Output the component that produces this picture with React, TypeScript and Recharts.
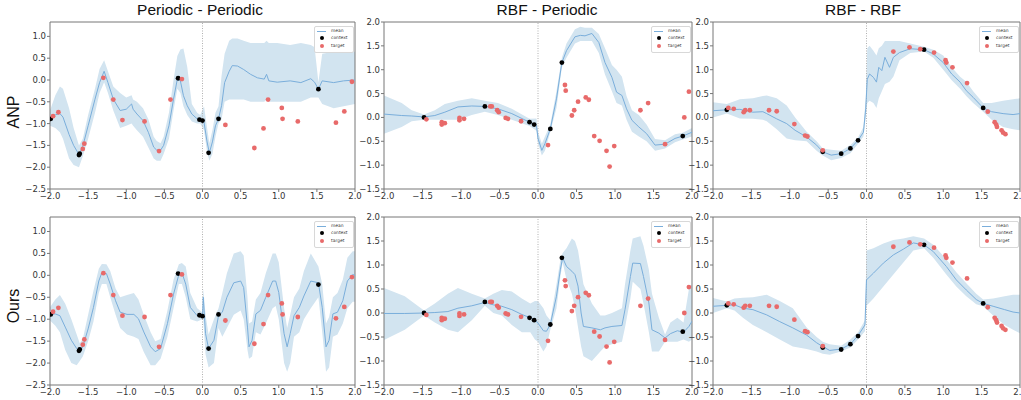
import React from 'react';
import { ComposedChart, Area, Line, Scatter, XAxis, YAxis, ReferenceLine, ReferenceArea } from 'recharts';

// rows: [x, mean, lower, upper]
type Row = [number, number, number, number];
type Pt = [number, number];

const xTicks = [-2, -1.5, -1, -0.5, 0, 0.5, 1, 1.5, 2];
const yTicksPer = [-2.5, -2, -1.5, -1, -0.5, 0, 0.5, 1];
const yTicksRbf = [-1.5, -1, -0.5, 0, 0.5, 1, 1.5, 2];
const yDomainPer: [number, number] = [-2.5, 1.33];
const yDomainRbf: [number, number] = [-1.5, 2.0];

const colTitles = ['Periodic - Periodic', 'RBF - Periodic', 'RBF - RBF'];
const rowTitles = ['ANP', 'Ours'];
const legendItems = ['mean', 'context', 'target'];

// Periodic - Periodic
const ppContext: Pt[] = [[-1.99, -0.89], [-1.62, -1.72], [-1.61, -1.69], [-0.32, 0.04], [-0.04, -0.91], [0.0, -0.93], [0.08, -1.67], [0.21, -0.89], [1.52, -0.21]];
const ppTarget: Pt[] = [[-1.96, -0.83], [-1.89, -0.74], [-1.57, -1.58], [-1.55, -1.46], [-1.30, 0.05], [-1.17, -0.45], [-1.05, -0.92], [-0.76, -0.95], [-0.57, -1.63], [-0.42, -0.45], [-0.27, 0.02], [0.30, -1.03], [0.68, -1.56], [0.80, -1.11], [0.86, -0.45], [1.04, -0.64], [1.05, -0.89], [1.25, -0.95], [1.75, -0.98], [1.86, -0.72], [1.96, -0.04]];
const ppAnp: Row[] = [
  [-2.0, -0.90, -1.05, -0.70], [-1.93, -0.80, -1.10, -0.35], [-1.87, -0.77, -1.20, -0.15], [-1.83, -0.85, -1.35, -0.20],
  [-1.75, -1.25, -1.80, -0.65], [-1.69, -1.50, -1.95, -1.10], [-1.62, -1.71, -2.00, -1.50], [-1.57, -1.52, -1.75, -1.35],
  [-1.50, -1.05, -1.35, -0.80], [-1.41, -0.44, -0.75, -0.20], [-1.35, -0.06, -0.30, 0.25], [-1.29, 0.20, -0.05, 0.45],
  [-1.24, -0.06, -0.30, 0.20], [-1.17, -0.44, -0.70, -0.15], [-1.08, -0.70, -1.10, -0.30], [-1.00, -0.67, -1.05, -0.40],
  [-0.93, -0.55, -1.00, -0.35], [-0.91, -0.67, -1.05, -0.45], [-0.86, -0.78, -1.15, -0.50], [-0.78, -0.93, -1.30, -0.65],
  [-0.71, -1.20, -1.55, -0.90], [-0.64, -1.54, -1.80, -1.30], [-0.60, -1.61, -1.85, -1.40], [-0.55, -1.61, -1.85, -1.45],
  [-0.51, -1.50, -1.70, -1.30], [-0.44, -1.05, -1.35, -0.75], [-0.38, -0.44, -0.70, 0.00], [-0.33, 0.02, -0.20, 0.55],
  [-0.29, -0.02, -0.30, 0.70], [-0.25, -0.36, -0.60, 0.72], [-0.20, -0.59, -0.80, 0.30], [-0.14, -0.78, -0.95, -0.55],
  [-0.07, -0.89, -1.00, -0.75], [-0.03, -0.93, -1.00, -0.80], [0.02, -0.97, -1.15, -0.60], [0.06, -1.42, -1.65, -1.10],
  [0.09, -1.67, -1.85, -1.45], [0.13, -1.42, -1.70, -1.15], [0.17, -1.05, -1.30, -0.75], [0.21, -0.89, -1.00, -0.60],
  [0.25, -0.59, -0.90, 0.10], [0.29, -0.06, -0.50, 0.60], [0.35, 0.20, -0.45, 0.90], [0.39, 0.33, -0.45, 0.95],
  [0.46, 0.32, -0.45, 0.95], [0.54, 0.24, -0.45, 0.90], [0.63, 0.13, -0.50, 0.85], [0.72, 0.05, -0.50, 0.85],
  [0.81, 0.02, -0.50, 0.85], [0.84, 0.13, -0.45, 0.90], [0.87, -0.02, -0.50, 0.85], [0.98, -0.05, -0.50, 0.85],
  [1.15, -0.02, -0.50, 0.80], [1.29, -0.06, -0.50, 0.85], [1.42, 0.03, -0.40, 0.80], [1.47, -0.05, -0.40, 0.75],
  [1.52, -0.21, -0.40, -0.05], [1.57, -0.02, -0.55, 0.60], [1.72, -0.06, -0.65, 0.65], [1.85, -0.02, -0.60, 0.65],
  [2.0, 0.0, -0.55, 0.65],
];
const ppOurs: Row[] = [
  [-2.0, -0.88, -1.03, -0.73], [-1.93, -0.88, -1.15, -0.55], [-1.87, -0.92, -1.30, -0.45], [-1.80, -1.18, -1.70, -0.65],
  [-1.72, -1.48, -2.00, -1.00], [-1.65, -1.67, -2.05, -1.35], [-1.61, -1.74, -1.95, -1.55], [-1.57, -1.63, -1.85, -1.45],
  [-1.50, -1.22, -1.50, -0.90], [-1.43, -0.73, -1.05, -0.35], [-1.36, -0.13, -0.40, 0.15], [-1.32, 0.06, -0.20, 0.26],
  [-1.26, 0.04, -0.20, 0.25], [-1.21, -0.20, -0.50, 0.10], [-1.14, -0.58, -0.90, -0.30], [-1.08, -0.84, -1.20, -0.50],
  [-0.99, -0.89, -1.35, -0.45], [-0.90, -0.89, -1.40, -0.40], [-0.84, -0.99, -1.45, -0.55], [-0.77, -1.29, -1.75, -0.90],
  [-0.68, -1.63, -2.05, -1.30], [-0.62, -1.74, -2.05, -1.50], [-0.55, -1.67, -1.90, -1.45], [-0.46, -1.10, -1.40, -0.80],
  [-0.38, -0.43, -0.75, -0.10], [-0.31, 0.02, -0.20, 0.25], [-0.27, 0.06, -0.20, 0.28], [-0.22, -0.20, -0.50, 0.20],
  [-0.16, -0.73, -1.00, -0.40], [-0.07, -0.92, -1.05, -0.75], [0.0, -0.95, -1.00, -0.85], [0.01, -0.50, -1.00, -0.30],
  [0.04, -1.33, -1.80, -0.90], [0.08, -1.67, -2.10, -1.35], [0.15, -1.48, -2.00, -1.00], [0.21, -0.92, -1.20, -0.75],
  [0.26, -0.84, -1.40, -0.40], [0.32, -0.50, -1.20, 0.05], [0.41, -0.17, -0.90, 0.50], [0.50, -0.13, -0.80, 0.55],
  [0.54, -0.28, -1.00, 0.45], [0.59, -1.18, -1.70, -0.50], [0.61, -1.63, -1.90, -1.10], [0.65, -1.48, -1.85, -1.05],
  [0.70, -0.88, -1.30, -0.55], [0.76, -0.80, -1.35, -0.40], [0.83, -0.50, -1.10, 0.05], [0.92, -0.13, -0.75, 0.50],
  [0.96, -0.13, -0.70, 0.50], [1.00, -0.39, -1.00, 0.30], [1.07, -1.33, -2.00, -0.75], [1.11, -1.63, -2.20, -1.20],
  [1.15, -1.33, -2.00, -0.90], [1.20, -0.92, -1.40, -0.50], [1.27, -0.73, -1.30, -0.30], [1.33, -0.47, -1.00, 0.10],
  [1.42, -0.13, -0.75, 0.50], [1.52, -0.17, -0.50, 0.20], [1.57, -0.73, -1.30, -0.20], [1.62, -1.63, -2.20, -1.10],
  [1.66, -1.48, -2.10, -0.95], [1.71, -0.88, -1.40, -0.50], [1.77, -0.84, -1.35, -0.40], [1.84, -0.58, -1.10, -0.10],
  [1.90, -0.13, -0.75, 0.40], [1.97, 0.02, -0.60, 0.55], [2.0, 0.0, -0.60, 0.55],
];

// RBF - Periodic
const rpContext: Pt[] = [[-1.48, 0.0], [-0.69, 0.23], [-0.11, -0.10], [-0.05, -0.15], [0.16, -0.24], [0.31, 1.15], [1.88, -0.39]];
const rpTarget: Pt[] = [[-1.45, -0.04], [-1.25, -0.10], [-1.25, -0.15], [-1.21, -0.12], [-1.02, -0.01], [-1.02, -0.06], [-0.96, -0.03], [-0.62, 0.23], [-0.60, 0.23], [-0.53, 0.15], [-0.51, 0.11], [-0.42, -0.01], [-0.39, -0.03], [-0.22, -0.08], [0.13, -0.58], [0.35, 0.68], [0.36, 0.56], [0.44, 0.04], [0.47, 0.15], [0.52, 0.33], [0.62, 0.42], [0.66, 0.37], [0.73, -0.39], [0.80, -0.49], [0.89, -0.70], [0.93, -1.03], [0.99, -0.60], [1.33, 0.15], [1.43, 0.30], [1.65, -0.56], [1.90, 0.0], [1.96, 0.54]];
const rpAnp: Row[] = [
  [-2.0, 0.07, -0.34, 0.46], [-1.77, 0.04, -0.20, 0.30], [-1.64, 0.03, -0.08, 0.15], [-1.48, 0.01, -0.05, 0.06],
  [-1.34, 0.04, -0.05, 0.15], [-1.21, 0.11, -0.05, 0.28], [-1.04, 0.22, -0.05, 0.35], [-0.86, 0.24, 0.05, 0.40],
  [-0.69, 0.23, 0.12, 0.35], [-0.52, 0.18, 0.05, 0.30], [-0.34, 0.08, -0.05, 0.18], [-0.11, -0.10, -0.18, -0.03],
  [-0.02, -0.17, -0.28, -0.02], [0.0, -0.44, -0.55, -0.30], [0.05, -0.69, -0.80, -0.55], [0.09, -0.55, -0.70, -0.40],
  [0.16, -0.24, -0.30, -0.15], [0.24, 0.39, 0.20, 0.55], [0.31, 1.15, 1.05, 1.25], [0.37, 1.40, 1.25, 1.55],
  [0.48, 1.69, 1.55, 1.85], [0.55, 1.72, 1.60, 1.90], [0.61, 1.71, 1.60, 1.88], [0.70, 1.76, 1.60, 1.88],
  [0.79, 1.57, 1.35, 1.75], [0.87, 1.15, 0.90, 1.45], [0.96, 0.84, 0.55, 1.10], [1.02, 0.53, 0.30, 1.00],
  [1.09, 0.46, 0.25, 0.85], [1.15, 0.18, -0.05, 0.45], [1.22, -0.06, -0.30, 0.15], [1.31, -0.20, -0.40, 0.05],
  [1.41, -0.34, -0.50, -0.15], [1.52, -0.58, -0.70, -0.45], [1.65, -0.56, -0.65, -0.48], [1.78, -0.44, -0.52, -0.35],
  [1.88, -0.39, -0.46, -0.32], [2.0, -0.31, -0.40, -0.22],
];
const rpOurs: Row[] = [
  [-2.0, -0.01, -0.56, 0.52], [-1.73, -0.01, -0.35, 0.35], [-1.48, 0.0, -0.05, 0.05], [-1.34, 0.01, -0.20, 0.20],
  [-1.17, 0.03, -0.35, 0.40], [-1.04, 0.10, -0.40, 0.52], [-0.86, 0.15, -0.15, 0.40], [-0.69, 0.22, 0.15, 0.30],
  [-0.58, 0.17, 0.0, 0.40], [-0.47, 0.14, -0.05, 0.48], [-0.34, 0.07, -0.25, 0.45], [-0.21, -0.03, -0.40, 0.30],
  [-0.10, -0.10, -0.40, 0.20], [-0.04, -0.15, -0.55, 0.25], [0.0, -0.21, -0.60, 0.25], [0.07, -0.37, -0.80, 0.10],
  [0.11, -0.38, -0.70, -0.05], [0.16, -0.24, -0.35, -0.15], [0.24, 0.35, 0.10, 0.60], [0.29, 0.90, 0.75, 1.10],
  [0.32, 1.15, 1.05, 1.25], [0.37, 0.97, 0.70, 1.35], [0.44, 0.87, 0.40, 1.55], [0.48, 0.80, 0.10, 1.50],
  [0.52, 0.56, -0.30, 1.30], [0.56, 0.0, -0.70, 0.90], [0.59, -0.28, -0.90, 0.60], [0.70, -0.31, -1.00, 0.20],
  [0.81, -0.35, -0.80, -0.05], [0.87, -0.31, -0.70, -0.05], [0.96, -0.28, -0.65, 0.0], [1.09, -0.26, -0.60, 0.10],
  [1.13, 0.07, -0.30, 0.60], [1.20, 0.76, 0.30, 1.30], [1.23, 1.04, 0.65, 1.55], [1.33, 1.03, 0.50, 1.60],
  [1.37, 0.76, 0.20, 1.40], [1.44, 0.21, -0.40, 0.90], [1.48, -0.35, -0.80, 0.40], [1.57, -0.42, -0.80, -0.10],
  [1.65, -0.52, -0.60, -0.45], [1.72, -0.43, -0.60, -0.20], [1.81, -0.37, -0.60, -0.10], [1.89, -0.40, -0.55, -0.20],
  [1.96, -0.28, -0.60, 0.50], [2.0, -0.17, -0.55, 0.60],
];

// RBF - RBF
const rrContext: Pt[] = [[-1.82, 0.16], [-0.57, -0.72], [-0.33, -0.76], [-0.21, -0.65], [-0.11, -0.48], [0.75, 1.42], [1.52, 0.20]];
const rrTarget: Pt[] = [[-1.80, 0.20], [-1.73, 0.18], [-1.60, 0.11], [-1.58, 0.15], [-1.52, 0.15], [-1.27, 0.15], [-1.17, 0.13], [-0.94, -0.14], [-0.80, -0.38], [-0.77, -0.40], [-0.57, -0.69], [0.35, 1.38], [0.56, 1.47], [0.70, 1.43], [0.88, 1.36], [1.03, 1.20], [1.04, 1.15], [1.12, 1.05], [1.31, 0.72], [1.58, 0.12], [1.67, -0.10], [1.69, -0.15], [1.70, -0.20], [1.76, -0.27], [1.78, -0.32], [1.81, -0.35]];
const rrAnp: Row[] = [
  [-2.0, 0.14, 0.0, 0.32], [-1.82, 0.16, 0.08, 0.28], [-1.65, 0.17, -0.02, 0.38], [-1.48, 0.11, -0.03, 0.40],
  [-1.35, 0.12, -0.05, 0.45], [-1.30, 0.08, -0.08, 0.46], [-1.17, -0.03, -0.25, 0.40], [-1.04, -0.13, -0.44, 0.25],
  [-0.93, -0.27, -0.48, 0.0], [-0.78, -0.41, -0.50, -0.30], [-0.65, -0.58, -0.70, -0.50], [-0.57, -0.72, -0.80, -0.65],
  [-0.46, -0.79, -0.90, -0.68], [-0.33, -0.76, -0.85, -0.70], [-0.21, -0.65, -0.75, -0.58], [-0.11, -0.48, -0.55, -0.42],
  [-0.04, -0.31, -0.40, -0.20], [-0.01, 0.18, 0.0, 0.40], [0.01, 0.80, 0.30, 1.45], [0.04, 0.91, 0.35, 1.50],
  [0.09, 0.84, 0.30, 1.40], [0.13, 0.74, 0.20, 1.30], [0.16, 1.05, 0.40, 1.45], [0.20, 0.98, 0.55, 1.50],
  [0.24, 1.26, 0.70, 1.60], [0.30, 1.05, 0.75, 1.60], [0.35, 1.26, 0.85, 1.60], [0.43, 1.36, 1.20, 1.60],
  [0.57, 1.44, 1.35, 1.55], [0.75, 1.42, 1.38, 1.48], [0.87, 1.33, 1.25, 1.42], [1.0, 1.15, 1.0, 1.30],
  [1.11, 0.91, 0.78, 1.05], [1.22, 0.74, 0.60, 0.85], [1.30, 0.56, 0.45, 0.75], [1.39, 0.42, 0.30, 0.55],
  [1.52, 0.20, 0.12, 0.30], [1.63, 0.12, -0.05, 0.30], [1.78, 0.08, -0.20, 0.35], [1.91, 0.06, -0.25, 0.38],
  [2.0, 0.08, -0.27, 0.40],
];
const rrOurs: Row[] = [
  [-2.0, 0.14, 0.0, 0.31], [-1.82, 0.16, 0.10, 0.24], [-1.72, 0.17, 0.05, 0.30], [-1.61, 0.10, -0.10, 0.32],
  [-1.48, 0.07, -0.25, 0.33], [-1.30, -0.04, -0.40, 0.38], [-1.13, -0.18, -0.55, 0.25], [-0.96, -0.31, -0.70, 0.10],
  [-0.78, -0.46, -0.75, -0.30], [-0.65, -0.62, -0.80, -0.50], [-0.57, -0.70, -0.85, -0.60], [-0.48, -0.78, -0.87, -0.65],
  [-0.33, -0.75, -0.80, -0.68], [-0.21, -0.65, -0.72, -0.55], [-0.11, -0.47, -0.55, -0.40], [-0.02, -0.25, -0.38, -0.15],
  [0.0, 0.69, 0.15, 1.30], [0.09, 0.83, 0.30, 1.35], [0.22, 1.04, 0.55, 1.45], [0.35, 1.21, 0.80, 1.52],
  [0.48, 1.33, 1.05, 1.55], [0.61, 1.46, 1.30, 1.60], [0.75, 1.42, 1.35, 1.55], [0.87, 1.28, 1.15, 1.42],
  [1.04, 0.97, 0.80, 1.12], [1.17, 0.69, 0.55, 0.85], [1.30, 0.48, 0.35, 0.62], [1.43, 0.28, 0.18, 0.40],
  [1.52, 0.20, 0.14, 0.28], [1.65, 0.14, -0.05, 0.30], [1.80, 0.07, -0.25, 0.35], [1.91, 0.02, -0.35, 0.38],
  [2.0, 0.0, -0.42, 0.38],
];

const fmt = (v: number) => v.toFixed(1).replace('-', '\u2212');
const tickFont = { fontSize: 8.5, fill: '#333', fontFamily: 'DejaVu Sans' };
const meanColor = '#7aaedb';

const dot = (color: string) => (p: any) => <circle cx={p.cx} cy={p.cy} r={2.4} fill={color} />;

type PanelProps = {
  left: number; top: number; width: number; height: number;
  rows: Row[]; context: Pt[]; target: Pt[];
  yDomain: [number, number]; yTicks: number[];
};

function Panel({ left, top, width, height, rows, context, target, yDomain, yTicks }: PanelProps) {
  const data = rows.map(([x, mean, lo, hi]) => ({ x, mean, band: [lo, hi] }));
  const ctx = context.map(([x, y]) => ({ x, y }));
  const tgt = target.map(([x, y]) => ({ x, y }));
  const padL = 40, padT = 4, padR = 8, padB = 20;
  return (
    <div style={{ position: 'absolute', left: left - padL, top: top - padT }}>
      <ComposedChart width={width + padL + padR} height={height + padT + padB} data={data}
        margin={{ top: padT, right: padR, bottom: 0, left: 0 }}>
        <XAxis dataKey="x" type="number" domain={[-2, 2]} ticks={xTicks} allowDataOverflow interval={0}
          tickFormatter={fmt} height={padB} tickSize={3} tickMargin={1} tick={tickFont}
          axisLine={false} tickLine={{ stroke: '#777' }} />
        <YAxis type="number" domain={yDomain} ticks={yTicks} allowDataOverflow interval={0}
          tickFormatter={fmt} width={padL} tickSize={3} tickMargin={1} tick={tickFont}
          axisLine={false} tickLine={{ stroke: '#777' }} />
        <Area dataKey="band" type="linear" stroke="none" fill="#d2e4f0" fillOpacity={1} isAnimationActive={false} />
        <ReferenceLine x={0} stroke="#b0b0b0" strokeDasharray="1 1.5" />
        <Line dataKey="mean" type="linear" stroke={meanColor} strokeWidth={1} dot={false} isAnimationActive={false} />
        <Scatter data={ctx} dataKey="y" shape={dot('#000')} isAnimationActive={false} />
        <Scatter data={tgt} dataKey="y" shape={dot('#e86a6a')} isAnimationActive={false} />
        <ReferenceArea x1={-2} x2={2} y1={yDomain[0]} y2={yDomain[1]} fill="none" stroke="#777" strokeWidth={1} />
      </ComposedChart>
      <div style={{
        position: 'absolute', left: padL + width - 41, top: padT + 4, width: 38, height: 25,
        border: '1px solid #d8d8d8', borderRadius: 2, background: 'rgba(255,255,255,0.85)',
        fontFamily: 'DejaVu Sans', fontSize: 4.4, color: '#333',
      }}>
        {legendItems.map((name, i) => (
          <div key={name} style={{ position: 'absolute', left: 0, top: 1 + i * 7.3, height: 6, width: 38 }}>
            {i === 0 ? (
              <div style={{ position: 'absolute', left: 2, top: 3, width: 9, height: 1, background: meanColor }} />
            ) : (
              <div style={{
                position: 'absolute', left: 4.5, top: 1, width: 4, height: 4, borderRadius: '50%',
                background: i === 1 ? '#000' : '#e86a6a',
              }} />
            )}
            <span style={{ position: 'absolute', left: 16, top: 0, lineHeight: '6px' }}>{name}</span>
          </div>
        ))}
      </div>
    </div>
  );
}

const colLeft = [50, 384, 713];
const colWidth = [305, 308, 307];
const rowTop = [22, 217];
const rowHeight = [167, 168];
const titleCenter = [200, 547, 863];
const rowLabelCenter = [112, 306];

export default function App() {
  const grid = [
    [ppAnp, rpAnp, rrAnp],
    [ppOurs, rpOurs, rrOurs],
  ];
  const pts: [Pt[], Pt[]][] = [[ppContext, ppTarget], [rpContext, rpTarget], [rrContext, rrTarget]];
  return (
    <div style={{ position: 'fixed', left: 0, top: 0, width: 1021, height: 400, background: '#fff', overflow: 'hidden' }}>
      {colTitles.map((t, c) => (
        <div key={t} style={{
          position: 'absolute', left: titleCenter[c] - 100, width: 200, top: 0, textAlign: 'center',
          fontFamily: 'Liberation Sans', fontSize: 15.5, color: '#111', lineHeight: '20px',
        }}>{t}</div>
      ))}
      {rowTitles.map((t, r) => (
        <div key={t} style={{
          position: 'absolute', left: 14 - 40, top: rowLabelCenter[r] - 10, width: 80, height: 20,
          textAlign: 'center', transform: 'rotate(-90deg)', fontFamily: 'Liberation Sans', fontSize: 16,
          color: '#111', lineHeight: '20px',
        }}>{t}</div>
      ))}
      {grid.map((rowPanels, r) =>
        rowPanels.map((rows, c) => (
          <Panel key={`${r}-${c}`} left={colLeft[c]} top={rowTop[r]} width={colWidth[c]} height={rowHeight[r]}
            rows={rows} context={pts[c][0]} target={pts[c][1]}
            yDomain={c === 0 ? yDomainPer : yDomainRbf} yTicks={c === 0 ? yTicksPer : yTicksRbf} />
        ))
      )}
    </div>
  );
}
